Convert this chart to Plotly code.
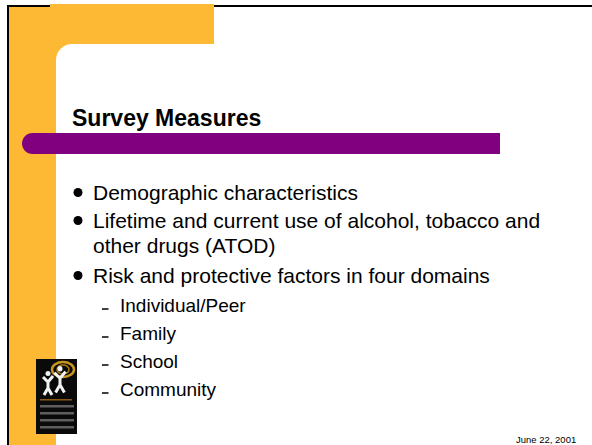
import plotly.graph_objects as go

# ---- content ----
title_text = "Survey Measures"
bullet_lines = [
    "Demographic characteristics",
    "Lifetime and current use of alcohol, tobacco and",
    "other drugs (ATOD)",
    "Risk and protective factors in four domains",
]
bullet_has_dot = [True, True, False, True]
sub_items = ["Individual/Peer", "Family", "School", "Community"]
date_text = "June 22, 2001"

# ---- layout constants ----
W, H = 592, 445
ORANGE = "#FDB933"
PURPLE = "#800080"
FONT = "Arial, 'Liberation Sans', sans-serif"
main_y = [192.5, 220.5, 245.5, 275.5]
sub_y = [305, 333, 361, 389]

shapes = []
annotations = []

def rect(x0, y0, x1, y1, color):
    shapes.append(dict(type="rect", xref="x", yref="y", x0=x0, y0=y0, x1=x1, y1=y1,
                       fillcolor=color, line=dict(width=0), layer="below"))

def path(d, fill=None, lc=None, lw=0):
    s = dict(type="path", xref="x", yref="y", path=d, layer="below",
             line=dict(width=lw, color=lc or "rgba(0,0,0,0)"))
    if fill:
        s["fillcolor"] = fill
    shapes.append(s)

# black frame lines
rect(7, 5, W, 7, "#000000")
rect(7, 5, 9, H, "#000000")
# orange frame
rect(9, 7, 214, 60, ORANGE)
rect(50, 4, 214, 7, ORANGE)
rect(9, 7, 72, H, ORANGE)
# white inner area with rounded top-left corner
r = 16
k = 0.5523 * r
path(f"M 56 {44+r} C 56 {44+r-k} {56+r-k} 44 {56+r} 44 L 600 44 L 600 450 L 56 450 Z",
     fill="#FFFFFF")
# purple bar with rounded left end
cy, rr = 143.5, 10.5
kk = 0.5523 * rr
cx = 32.5
path(f"M {cx} {cy-rr} L 500 {cy-rr} L 500 {cy+rr} L {cx} {cy+rr} "
     f"C {cx-kk} {cy+rr} {cx-rr} {cy+kk} {cx-rr} {cy} "
     f"C {cx-rr} {cy-kk} {cx-kk} {cy-rr} {cx} {cy-rr} Z", fill=PURPLE)

# logo
rect(36, 359, 77, 434, "#0a0a0a")
shapes.append(dict(type="circle", xref="x", yref="y", x0=52, y0=362, x1=74, y1=377,
                   fillcolor="rgba(0,0,0,0)", line=dict(color="#C8961E", width=2.5), layer="below"))
shapes.append(dict(type="circle", xref="x", yref="y", x0=57, y0=365, x1=69, y1=374,
                   fillcolor="rgba(0,0,0,0)", line=dict(color="#A87818", width=1.5), layer="below"))
for (fx, fy, s) in [(48, 380, 1.0), (60, 376, 1.1)]:
    path(f"M {fx-5*s} {fy-3*s} L {fx} {fy+2*s} L {fx+5*s} {fy-4*s} "
         f"M {fx} {fy+2*s} L {fx} {fy+8*s} M {fx-4*s} {fy+15*s} L {fx} {fy+8*s} L {fx+4*s} {fy+15*s}",
         lc="#F2F2F2", lw=3)
    shapes.append(dict(type="circle", xref="x", yref="y", x0=fx-2.5, y0=fy-9*s, x1=fx+2.5, y1=fy-4*s,
                       fillcolor="#F2F2F2", line=dict(width=0), layer="below"))
rect(40, 399, 72, 400.5, "#8A5A10")
for gy in [405, 412, 419, 426]:
    rect(40, gy, 74, gy + 2.5, "#5E5E5E")

# title
annotations.append(dict(x=70, y=117.5, xref="x", yref="y", text=f"<b>{title_text}</b>",
                        showarrow=False, xanchor="left", yanchor="middle",
                        font=dict(family=FONT, size=23, color="#000000")))

# main bullets
for txt, dot, y in zip(bullet_lines, bullet_has_dot, main_y):
    annotations.append(dict(x=91, y=y, xref="x", yref="y", text=txt, showarrow=False,
                            xanchor="left", yanchor="middle",
                            font=dict(family=FONT, size=21, color="#000000")))
    if dot:
        shapes.append(dict(type="circle", xref="x", yref="y", x0=73.5, y0=y - 4.5,
                           x1=82.5, y1=y + 4.5, fillcolor="#000000", line=dict(width=0)))

# sub bullets
for txt, y in zip(sub_items, sub_y):
    annotations.append(dict(x=118, y=y, xref="x", yref="y", text=txt, showarrow=False,
                            xanchor="left", yanchor="middle",
                            font=dict(family=FONT, size=19, color="#000000")))
    shapes.append(dict(type="line", xref="x", yref="y", x0=102, x1=108.5, y0=y + 4, y1=y + 4,
                       line=dict(color="#000000", width=1.5)))

# date
annotations.append(dict(x=578, y=439.5, xref="x", yref="y", text=date_text, showarrow=False,
                        xanchor="right", yanchor="middle",
                        font=dict(family=FONT, size=9.5, color="#000000")))

fig = go.Figure()
fig.update_layout(
    width=W, height=H, margin=dict(l=0, r=0, t=0, b=0),
    paper_bgcolor="#FFFFFF", plot_bgcolor="#FFFFFF",
    xaxis=dict(range=[0, W], visible=False, fixedrange=True),
    yaxis=dict(range=[H, 0], visible=False, fixedrange=True),
    shapes=shapes, annotations=annotations, showlegend=False,
)
fig.write_html("out.html", config={"displayModeBar": False},
               post_script="document.body.style.margin='0px';")
